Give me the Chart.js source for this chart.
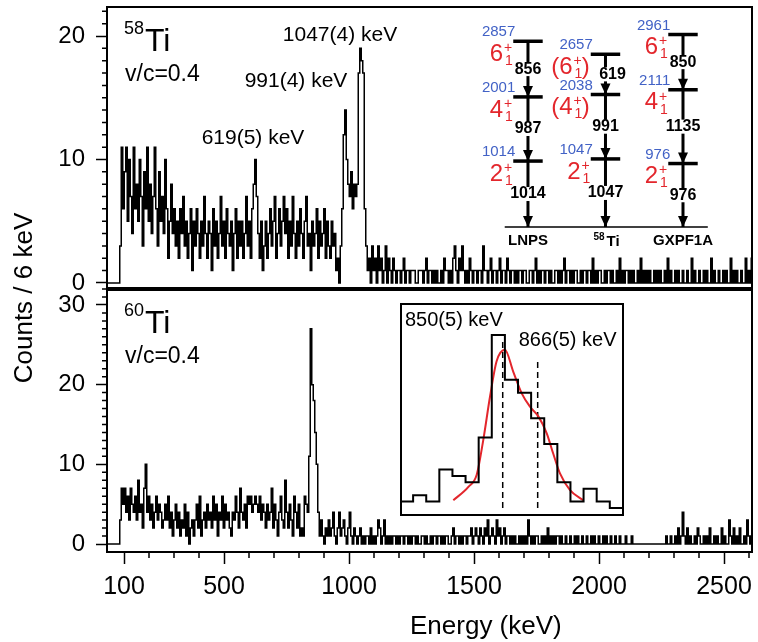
<!DOCTYPE html>
<html>
<head>
<meta charset="utf-8">
<script src="https://cdn.jsdelivr.net/npm/chart.js@4.4.1/dist/chart.umd.min.js"></script>
<style>
  body { margin: 0; background: #fff; }
  #wrap { position: relative; width: 758px; height: 642px; }
  canvas { position: absolute; }
</style>
</head>
<body>
<div id="wrap">
  <canvas id="main" width="758" height="642" style="left:0;top:0"></canvas>
  <canvas id="levels" width="275" height="260" style="left:470px;top:0"></canvas>
  <canvas id="inset" width="224" height="213" style="left:400px;top:303px"></canvas>
</div>
<script>
// spectra: counts per 6 keV bin, first bin starts at 83 keV
const binStart = 83;
const binWidth = 6;

const ti58Counts = [
  3,11,6,9,11,5,10,7,4,11,  6,8,5,10,7,3,9,6,11,5,  8,4,7,11,6,3,9,5,7,4,
  10,6,2,5,8,4,6,3,5,2,  6,4,7,3,5,2,4,6,1,5,  3,6,4,2,5,3,7,4,2,5,
  4,1,6,3,5,2,4,7,3,5,  2,6,4,3,5,1,4,6,2,5,  3,5,2,4,7,3,5,2,6,8,
  10,7,4,2,5,1,3,5,2,4,  6,3,5,7,2,4,6,3,5,7,  4,6,2,5,3,7,4,2,5,3,
  6,4,2,5,7,3,4,1,5,3,  4,6,2,5,3,4,6,2,5,3,  2,5,3,4,1,2,0,3,6,12,
  14,10,8,7,9,6,8,7,8,17,  19,18,17,6,3,1,2,0,3,1,  2,0,3,1,2,0,1,3,0,2,
  1,0,2,1,0,1,1,0,1,2,  0,1,1,0,1,1,1,0,0,1,  1,1,0,1,2,0,1,1,0,1,
  0,1,0,0,1,0,2,1,1,0,  1,0,2,3,1,0,2,1,3,1,  0,1,0,2,1,0,1,1,0,1,
  1,0,3,1,1,0,1,2,0,1,  1,0,1,2,0,1,1,0,2,1,  0,1,1,0,1,0,1,1,0,1,
  1,0,0,1,1,0,1,2,0,1,  0,1,1,0,1,1,0,1,0,0,  1,1,0,1,0,1,2,0,1,1,
  0,1,0,1,1,0,0,1,0,1,  1,0,1,1,0,2,0,1,0,1,  1,0,0,1,0,1,1,0,1,0,
  0,1,0,2,0,1,0,1,1,0,  1,0,1,0,0,1,0,2,0,1,  0,1,0,1,0,0,1,0,1,0,
  1,0,0,1,0,2,0,1,0,0,  1,0,1,0,0,1,0,0,1,0,  0,2,0,1,0,0,1,0,0,1,
  0,1,0,0,2,0,1,0,0,1,  0,0,1,0,1,0,0,2,0,1,  0,1,0,0,1,0,0,2,0,1,
  0,2
];

const ti60Counts = [
  3,7,5,7,4,6,3,7,5,4,  6,3,8,4,5,2,7,10,4,6,  3,5,2,4,6,3,5,4,2,3,
  5,3,6,2,4,1,3,5,2,4,  1,3,2,5,1,4,0,2,3,1,  3,5,2,6,1,3,4,2,5,3,
  4,2,6,3,5,1,4,3,6,2,  5,3,4,2,1,4,3,6,4,2,  7,4,3,5,2,6,5,6,4,5,
  6,5,4,6,3,5,4,2,5,3,  4,7,2,5,3,1,4,6,3,2,  8,4,2,5,3,1,6,4,2,5,
  1,2,1,6,5,4,11,27,20,18,  14,10,4,1,3,1,0,2,1,3,  1,2,4,1,0,2,4,1,2,3,
  1,0,2,4,1,0,2,1,0,1,  2,0,1,0,1,1,0,2,0,1,  0,1,3,2,0,1,3,0,1,0,
  1,0,1,1,0,1,0,1,1,0,  1,1,0,1,0,1,1,0,1,0,  0,1,1,0,1,0,0,1,0,1,
  1,0,1,1,0,1,0,1,1,0,  0,1,2,0,1,1,0,1,0,1,  1,0,1,1,2,0,1,2,1,0,
  2,1,0,2,1,3,0,1,2,1,  0,3,1,2,0,1,2,0,1,1,  0,1,0,1,0,0,1,0,1,0,
  1,0,3,1,0,1,0,1,1,0,  0,1,0,1,0,2,0,1,0,1,  0,1,1,0,1,0,0,1,0,0,
  1,0,0,1,0,1,0,0,1,0,  0,1,0,0,1,0,1,0,0,1,  0,0,1,0,1,0,0,1,0,0,
  1,0,0,1,0,0,0,1,0,0,  0,1,0,0,0,0,0,0,0,0,  0,0,0,0,0,0,0,0,0,0,
  0,0,0,0,1,0,0,1,0,0,  1,0,2,0,1,4,1,0,2,0,  1,0,0,1,0,2,1,0,0,1,
  0,1,0,2,0,0,1,0,1,0,  0,2,0,1,0,0,3,1,0,2,  0,1,0,2,0,0,1,0,3,1,
  0,1
];

const xTicks = [100, 500, 1000, 1500, 2000, 2500];
const yTicksTop = [0, 10, 20];
const yTicksBot = [0, 10, 20, 30];

const fitEnergy = [827.4, 834.3, 838.1, 841.1, 844.2, 847.2, 851, 854.8, 858.7, 862.5, 866.3, 870.1, 873.1, 876.2, 880.8, 886.9];
const fitCounts = [1.2, 3.3, 5.2, 10.6, 17.4, 22.9, 24.7, 21.3, 17.9, 15.8, 14.3, 11.7, 8.5, 5.4, 2.8, 1.2];
const peakEnergy = [850, 866];
const peakMarkTop = [26.5, 22.8];
const insetFirstBin = 120;
const insetBins = 17;

// level schemes (keV)
const schemeNames = ['LNPS', '58Ti', 'GXPF1A'];
const levelsLNPS = [0, 1014, 2001, 2857];
const levels58Ti = [0, 1047, 2038, 2657];
const levelsGXPF = [0, 976, 2111, 2961];
const spins = ['2', '4', '6'];
const tentative = [[false, false, false], [false, true, true], [false, false, false]];

const FONT = '"Liberation Sans", Arial, sans-serif';
const RED = '#e3262c';
const BLUE = '#4262c6';
const xMin = 32, xMax = 2612;

function histPoints(counts, from, to, lead) {
  const pts = [];
  if (lead !== undefined) pts.push({x: lead, y: 0});
  for (let i = from; i < to; i++) pts.push({x: binStart + binWidth * i, y: counts[i]});
  pts.push({x: binStart + binWidth * to, y: counts[to - 1]});
  return pts;
}

function text(ctx, s, x, y, size, opt) {
  opt = opt || {};
  ctx.font = (opt.weight || '') + ' ' + size + 'px ' + FONT;
  ctx.fillStyle = opt.color || '#000';
  ctx.textAlign = opt.align || 'left';
  ctx.textBaseline = 'middle';
  ctx.fillText(s, x, y);
}

// ---------------- main spectra ----------------
const peakLabels = [
  {t: '1047(4) keV', e: 964, c: 20.1},
  {t: '991(4) keV', e: 788, c: 16.3},
  {t: '619(5) keV', e: 616, c: 11.7}
];

const mainDecor = {
  id: 'mainDecor',
  afterDraw(chart) {
    const {ctx, chartArea: a, scales} = chart;
    const x = scales.x, yTop = scales.yTop, yBot = scales.yBot;
    ctx.save();
    ctx.strokeStyle = '#000';

    // minor ticks
    ctx.lineWidth = 1.5;
    ctx.beginPath();
    for (let e = 100; e <= xMax; e += 100) {
      if (xTicks.includes(e)) continue;
      const px = x.getPixelForValue(e);
      ctx.moveTo(px, a.bottom);
      ctx.lineTo(px, a.bottom + 6);
    }
    for (const s of [yTop, yBot]) {
      for (let v = 1; v <= s.max; v++) {
        if (v % 10 === 0) continue;
        const py = s.getPixelForValue(v);
        ctx.moveTo(a.left - 5, py);
        ctx.lineTo(a.left, py);
      }
    }
    ctx.stroke();

    // panel frames
    ctx.lineWidth = 2;
    for (const s of [yTop, yBot]) ctx.strokeRect(a.left, s.top, a.right - a.left, s.bottom - s.top);
    ctx.lineWidth = 4;
    ctx.beginPath();
    ctx.moveTo(a.left, yTop.bottom);
    ctx.lineTo(a.right, yTop.bottom);
    ctx.stroke();

    // axis titles
    text(ctx, 'Energy (keV)', 410, 627, 26);
    ctx.save();
    ctx.translate(25, 298);
    ctx.rotate(-Math.PI / 2);
    text(ctx, 'Counts / 6 keV', 0, 0, 26, {align: 'center'});
    ctx.restore();

    // panel labels
    [[yTop, '58'], [yBot, '60']].forEach(([s, mass]) => {
      text(ctx, mass, a.left + 17, s.top + 22, 18);
      text(ctx, 'Ti', a.left + 38, s.top + 35, 32);
      text(ctx, 'v/c=0.4', a.left + 18, s.top + 68, 23);
    });
    for (const p of peakLabels) {
      text(ctx, p.t, x.getPixelForValue(p.e), yTop.getPixelForValue(p.c), 21, {align: 'center'});
    }
    ctx.restore();
  }
};

const yCommon = {
  type: 'linear',
  position: 'left',
  stack: 'spectra',
  border: {display: true, color: '#000', width: 2},
  grid: {drawOnChartArea: false, tickLength: 11, tickColor: '#000', tickWidth: 1.5},
  ticks: {font: {family: FONT, size: 24}, color: '#000', padding: 11, callback: v => String(v)},
  afterFit(s) { s.width = 107; s.paddingTop = 0; s.paddingBottom = 0; }
};

new Chart(document.getElementById('main'), {
  type: 'line',
  data: {
    datasets: [
      {
        data: histPoints(ti58Counts, 0, ti58Counts.length, xMin),
        yAxisID: 'yTop',
        borderColor: '#000', borderWidth: 1.5, stepped: 'before', pointRadius: 0, fill: false
      },
      {
        data: histPoints(ti60Counts, 0, ti60Counts.length, xMin),
        yAxisID: 'yBot',
        borderColor: '#000', borderWidth: 1.5, stepped: 'before', pointRadius: 0, fill: false
      }
    ]
  },
  options: {
    responsive: false,
    animation: false,
    devicePixelRatio: 1,
    layout: {padding: {top: 7, right: 6, left: 0, bottom: 0}},
    plugins: {legend: {display: false}, tooltip: {enabled: false}},
    scales: {
      x: {
        type: 'linear', min: xMin, max: xMax,
        border: {display: true, color: '#000', width: 2},
        grid: {drawOnChartArea: false, tickLength: 12, tickColor: '#000', tickWidth: 1.5},
        ticks: {font: {family: FONT, size: 25}, color: '#000', padding: 8, maxRotation: 0, callback: v => String(v)},
        afterBuildTicks(s) { s.ticks = xTicks.map(v => ({value: v})); },
        afterFit(s) { s.height = 90; s.paddingLeft = 0; s.paddingRight = 0; }
      },
      yBot: Object.assign({}, yCommon, {
        min: -1.0, max: 32.0, stackWeight: 263,
        afterBuildTicks(s) { s.ticks = yTicksBot.map(v => ({value: v})); }
      }),
      yTop: Object.assign({}, yCommon, {
        min: -0.49, max: 22.35, stackWeight: 282,
        afterBuildTicks(s) { s.ticks = yTicksTop.map(v => ({value: v})); }
      })
    }
  },
  plugins: [mainDecor]
});

// ---------------- level schemes ----------------
const schemes = [levelsLNPS, levels58Ti, levelsGXPF];
const halfLevel = 0.19;

function drawSpin(ctx, j, xr, yc, paren) {
  ctx.font = '24px ' + FONT;
  const wj = ctx.measureText(j).width;
  const wp = paren ? ctx.measureText('(').width : 0;
  ctx.font = '14px ' + FONT;
  const ws = ctx.measureText('+').width;
  let x0 = xr - (2 * wp + wj + ws + 1);
  ctx.fillStyle = RED;
  ctx.textAlign = 'left';
  ctx.textBaseline = 'middle';
  ctx.font = '24px ' + FONT;
  if (paren) { ctx.fillText('(', x0, yc); x0 += wp; }
  ctx.fillText(j, x0, yc);
  x0 += wj + 1;
  ctx.font = '14px ' + FONT;
  ctx.fillText('+', x0, yc - 6);
  ctx.fillText('1', x0 + 1, yc + 7);
  x0 += ws;
  if (paren) { ctx.font = '24px ' + FONT; ctx.fillText(')', x0, yc); }
}

const levelDecor = {
  id: 'levelDecor',
  afterDatasetsDraw(chart) {
    const {ctx, scales: {x, y}} = chart;
    ctx.save();
    schemes.forEach((lv, c) => {
      const cx = x.getPixelForValue(c);
      const left = x.getPixelForValue(c - halfLevel);
      // arrow heads down to every lower level
      ctx.fillStyle = '#000';
      for (let i = 0; i < lv.length - 1; i++) {
        const ty = y.getPixelForValue(lv[i]);
        ctx.beginPath();
        ctx.moveTo(cx, ty);
        ctx.lineTo(cx - 5, ty - 11);
        ctx.lineTo(cx + 5, ty - 11);
        ctx.closePath();
        ctx.fill();
      }
      // transition energies
      for (let i = 0; i < lv.length - 1; i++) {
        const gamma = String(lv[i + 1] - lv[i]);
        const my = y.getPixelForValue((lv[i] + lv[i + 1]) / 2);
        const gx = cx + (lv[i + 1] - lv[i] < 700 ? 7 : 0);
        ctx.font = 'bold 16px ' + FONT;
        const w = ctx.measureText(gamma).width;
        ctx.fillStyle = '#fff';
        ctx.fillRect(gx - w / 2 - 1, my - 7, w + 2, 14);
        text(ctx, gamma, gx, my, 16, {weight: 'bold', align: 'center'});
      }
      // level energies and spins
      for (let i = 1; i < lv.length; i++) {
        const ly = y.getPixelForValue(lv[i]);
        text(ctx, String(lv[i]), left + 2, ly - 9, 15, {color: BLUE, align: 'right'});
        drawSpin(ctx, spins[i - 1], left - 1, ly + 13, tentative[c][i - 1]);
      }
      // model / experiment name
      const by = y.getPixelForValue(0) + 14;
      if (schemeNames[c] === '58Ti') {
        text(ctx, '58', cx - 12, by - 4, 10, {weight: 'bold'});
        text(ctx, 'Ti', cx + 1, by + 1, 15, {weight: 'bold'});
      } else {
        text(ctx, schemeNames[c], cx, by, 15, {weight: 'bold', align: 'center'});
      }
    });
    ctx.restore();
  }
};

const levelSets = [];
schemes.forEach((lv, c) => {
  levelSets.push({data: [{x: c, y: lv[lv.length - 1]}, {x: c, y: 0}], borderWidth: 3});
  lv.slice(1).forEach(e => levelSets.push({
    data: [{x: c - halfLevel, y: e}, {x: c + halfLevel, y: e}], borderWidth: 3.5
  }));
});
levelSets.push({data: [{x: -0.3, y: 0}, {x: 2.32, y: 0}], borderWidth: 1.5});
levelSets.forEach(d => { d.borderColor = '#000'; d.pointRadius = 0; });

new Chart(document.getElementById('levels'), {
  type: 'line',
  data: {datasets: levelSets},
  options: {
    responsive: false, animation: false, devicePixelRatio: 1,
    layout: {padding: 0},
    plugins: {legend: {display: false}, tooltip: {enabled: false}},
    scales: {
      x: {type: 'linear', min: -0.748, max: 2.8, display: false},
      y: {type: 'linear', min: -508, max: 3492, display: false}
    }
  },
  plugins: [levelDecor]
});

// ---------------- inset ----------------
const insetDecor = {
  id: 'insetDecor',
  beforeDraw(chart) {
    const {ctx, width, height} = chart;
    ctx.save();
    ctx.fillStyle = '#fff';
    ctx.fillRect(0, 0, width, height);
    ctx.restore();
  },
  afterDraw(chart) {
    const {ctx, width, height, scales: {x}} = chart;
    ctx.save();
    ctx.strokeStyle = '#000';
    ctx.lineWidth = 2;
    ctx.strokeRect(1, 1, width - 2, height - 2);
    text(ctx, peakEnergy[0] + '(5) keV', 5, 17, 20);
    text(ctx, peakEnergy[1] + '(5) keV', x.getPixelForValue(peakEnergy[1]) - 19, 37, 20);
    ctx.restore();
  }
};

const insetSets = [
  {
    data: histPoints(ti60Counts, insetFirstBin, insetFirstBin + insetBins),
    borderColor: '#000', borderWidth: 2, stepped: 'before'
  },
  {
    data: fitEnergy.map((e, i) => ({x: e, y: fitCounts[i]})),
    borderColor: RED, borderWidth: 2, cubicInterpolationMode: 'monotone'
  }
];
peakEnergy.forEach((e, i) => insetSets.push({
  data: [{x: e, y: 0}, {x: e, y: peakMarkTop[i]}],
  borderColor: '#000', borderWidth: 1.5, borderDash: [6, 4]
}));
insetSets.forEach(d => { d.pointRadius = 0; d.fill = false; });

new Chart(document.getElementById('inset'), {
  type: 'line',
  data: {datasets: insetSets},
  options: {
    responsive: false, animation: false, devicePixelRatio: 1,
    layout: {padding: 0},
    plugins: {legend: {display: false}, tooltip: {enabled: false}},
    scales: {
      x: {type: 'linear', min: binStart + binWidth * insetFirstBin, max: 905.5, display: false},
      y: {type: 'linear', min: -1.25, max: 32.0, display: false}
    }
  },
  plugins: [insetDecor]
});
</script>
</body>
</html>
